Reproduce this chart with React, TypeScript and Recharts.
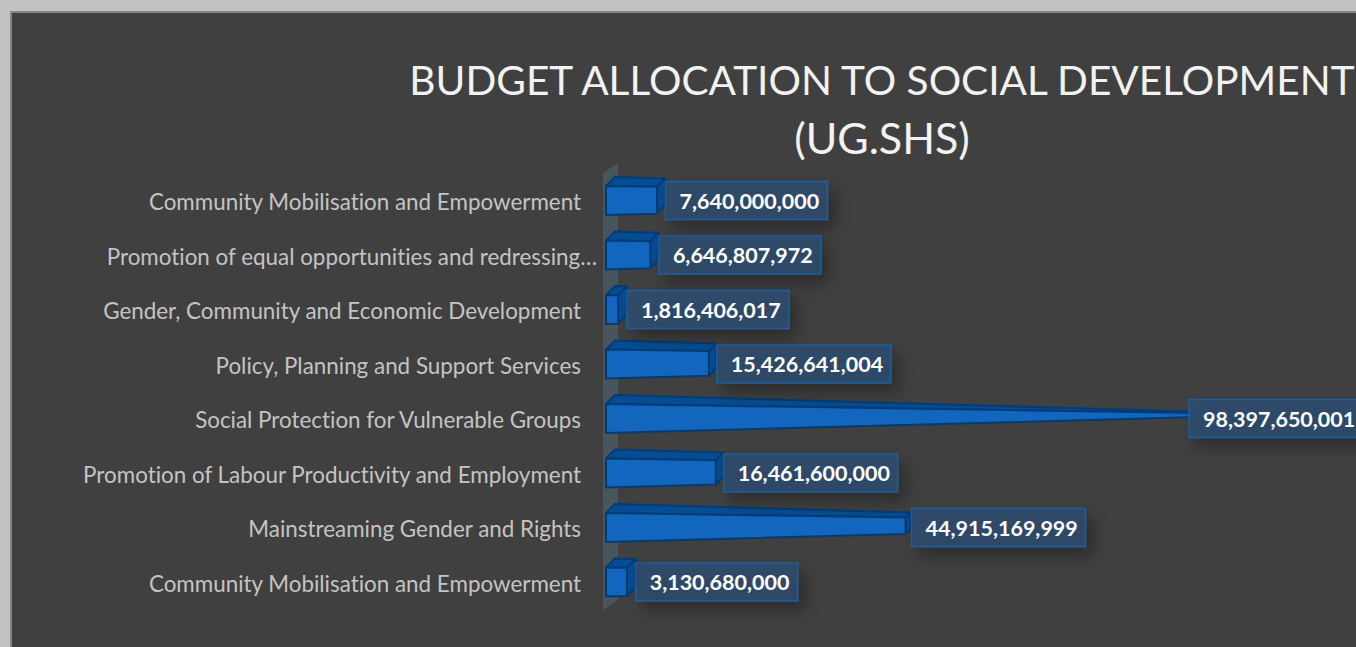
import React from "react";
import { BarChart, Bar, XAxis, YAxis, LabelList, usePlotArea } from "recharts";

const categories = [
  "Community Mobilisation and Empowerment",
  "Promotion of equal opportunities and redressing…",
  "Gender, Community and Economic Development",
  "Policy, Planning and Support Services",
  "Social Protection for Vulnerable Groups",
  "Promotion of Labour Productivity and Employment",
  "Mainstreaming Gender and Rights",
  "Community Mobilisation and Empowerment",
];

const budget = [
  7640000000, 6646807972, 1816406017, 15426641004, 98397650001, 16461600000,
  44915169999, 3130680000,
];

const titleLines = ["BUDGET ALLOCATION TO SOCIAL DEVELOPMENT", "(UG.SHS)"];

const data = categories.map((name, i) => ({ name, budget: budget[i] }));

const FONT = "Lato, sans-serif";
// the bars narrow towards a vanishing point, this many px from the axis
const VANISH = 690;
const CHART_W = 1356;
const MAX_LABEL_X = 1189;

const taper = (w: number) => Math.max(0, 1 - w / VANISH);
const pts = (p: number[][]) => p.map((a) => a.join(",")).join(" ");

const ConeBar = (props: any) => {
  const { x, y, width, height } = props;
  const top = y - 2;
  const k = taper(width);
  const right = x + width;
  // left edge narrows 1/3 from the top, 2/3 from the bottom
  const h = height * (1 - k);
  const tr = top + h * 0.36;
  const br = top + height - h * 0.64;
  const d = 9;
  const front = [[x, top], [right, tr], [right, br], [x, top + height]];
  const topFace = [[x, top], [x + d, top - d], [right + d * k, tr - d * k], [right, tr]];
  const side = [[right, tr], [right + d * k, tr - d * k], [right + d * k, br - d * k], [right, br]];
  return (
    <g stroke="#033c74" strokeWidth={2} strokeLinejoin="round">
      <polygon points={pts(topFace)} fill="#064c92" />
      <polygon points={pts(side)} fill="#064c92" />
      <polygon points={pts(front)} fill="#1366bd" />
    </g>
  );
};

const ValueLabel = (props: any) => {
  const { x, y, width, height, value } = props;
  const text = Number(value).toLocaleString("en-US");
  const boxW = text.length * 12 + 6;
  const boxX = Math.min(x + width + 2 + 7 * taper(width), MAX_LABEL_X);
  const cy = y - 2 + height / 2;
  return (
    <g>
      <rect
        x={boxX}
        y={cy - 19}
        width={boxW}
        height={38}
        fill="#2c4c6e"
        fillOpacity={0.88}
        stroke="#1c5e9f"
        strokeWidth={1.5}
        filter="url(#labelShadow)"
      />
      <text
        x={boxX + 14}
        y={cy + 8}
        fill="#ffffff"
        fontFamily={FONT}
        fontWeight={700}
        fontSize={21.5}
        style={{ fontVariantLigatures: "none" }}
      >
        {text}
      </text>
    </g>
  );
};

const CategoryTick = (props: any) => {
  const { x, y, payload } = props;
  const cut = String(payload.value).endsWith("…");
  return (
    <text
      x={x + (cut ? 16 : 0)}
      y={y + 8}
      textAnchor="end"
      fill="#c4c4c4"
      fontFamily={FONT}
      fontSize={22.4}
      style={{ fontVariantLigatures: "none" }}
    >
      {payload.value}
    </text>
  );
};

// back wall of the 3D plot, a thin slanted strip behind the bars
const Wall = () => {
  const plot = usePlotArea();
  if (!plot) return null;
  const left = plot.x - 3;
  const right = plot.x + 12;
  const top = plot.y;
  const bottom = plot.y + plot.height;
  return (
    <polygon
      points={pts([[left, top - 2], [right, top - 12], [right, bottom - 11], [left, bottom - 1]])}
      fill="#4c5e68"
      fillOpacity={0.7}
    />
  );
};

export default function App() {
  return (
    <div
      style={{
        position: "fixed",
        left: 0,
        top: 0,
        width: 1356,
        height: 647,
        overflow: "hidden",
        background: "#c2c2c2",
      }}
    >
      <div
        style={{
          position: "absolute",
          left: 10,
          top: 11,
          width: 1400,
          height: 700,
          background: "#404040",
          border: "2px solid #868686",
        }}
      />
      {titleLines.map((line, i) => (
        <div
          key={line}
          style={{
            position: "absolute",
            left: 282,
            width: 1200,
            top: 52 + i * 58,
            textAlign: "center",
            whiteSpace: "nowrap",
            color: "#f2f2f2",
            fontFamily: FONT,
            fontSize: i === 0 ? 40.6 : 43,
            lineHeight: "56px",
            fontVariantLigatures: "none",
          }}
        >
          {line}
        </div>
      ))}
      <div style={{ position: "absolute", left: 0, top: 0 }}>
        <BarChart
          width={CHART_W}
          height={647}
          data={data}
          layout="vertical"
          barSize={29}
          margin={{ top: 175, right: 83, bottom: 36, left: 0 }}
          style={{ overflow: "visible" }}
        >
          <defs>
            <filter id="labelShadow" x="-15%" y="-40%" width="140%" height="220%">
              <feDropShadow dx={7} dy={9} stdDeviation={8} floodColor="#000" floodOpacity={0.35} />
            </filter>
          </defs>
          <Wall />
          <XAxis type="number" domain={[0, 100000000000]} hide />
          <YAxis
            type="category"
            dataKey="name"
            width={606}
            axisLine={false}
            tickLine={false}
            interval={0}
            tickMargin={19}
            tick={<CategoryTick />}
          />
          <Bar dataKey="budget" shape={<ConeBar />} isAnimationActive={false}>
            <LabelList dataKey="budget" content={<ValueLabel />} />
          </Bar>
        </BarChart>
      </div>
    </div>
  );
}
